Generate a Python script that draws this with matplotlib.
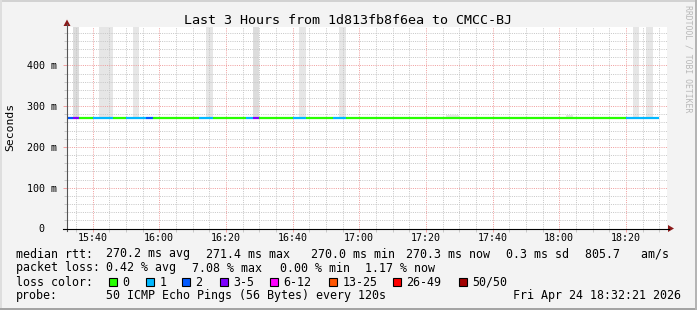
import matplotlib
matplotlib.use("Agg")
import matplotlib.pyplot as plt
from matplotlib.lines import Line2D
from matplotlib.patches import Rectangle, Polygon
from matplotlib.ticker import MultipleLocator, FuncFormatter

MONO = 'DejaVu Sans Mono'

# time window (minutes since midnight), ends at 18:32:21
view_start = "15:32:21"
view_end = "18:32:21"

# median line, split into runs of equal packet loss (pings lost out of 50)
seg_start = ["15:32", "15:34", "15:36", "15:40", "15:46", "15:50", "15:56", "15:58",
             "16:12", "16:16", "16:26", "16:28", "16:30", "16:40", "16:44", "16:52",
             "16:56", "18:20"]
seg_lost = [2, 3, 0, 1, 0, 1, 2, 0, 1, 0, 1, 3, 0, 1, 0, 1, 0, 1]
seg_median = [270.4, 270.3, 270.2, 270.2, 270.1, 270.2, 270.3, 270.2, 270.2,
              270.1, 270.2, 270.3, 270.2, 270.2, 270.1, 270.2, 270.2, 270.3]
last_sample = "18:30"

# smoke: steps where some pings were slow (max rtt in ms, number of slow pings)
smoke_start = ["15:34", "15:42", "15:44", "15:52", "16:14", "16:28", "16:42",
               "16:54", "17:26", "17:28", "18:02", "18:22", "18:26"]
smoke_max = [2000, 2000, 2000, 2000, 2000, 2000, 2000, 2000, 277, 277, 276, 2000, 2000]
smoke_slow = [3, 1, 1, 1, 1, 3, 1, 1, 1, 1, 1, 1, 1]

# loss colour legend
loss_labels = ["0", "1", "2", "3-5", "6-12", "13-25", "26-49", "50/50"]
loss_floor = [0, 1, 2, 3, 6, 13, 26, 50]
loss_colors = ['#26ff00', '#00b8ff', '#0059ff', '#7e00ff', '#ff00ff', '#ff5500', '#ff0000', '#a10000']

# summary numbers
rtt_stats = [270.2, 271.4, 270.0, 270.3]   # avg max min now (ms)
rtt_sd = 0.3
rtt_amps = 805.7
loss_stats = [0.42, 7.08, 0.00, 1.17]      # avg max min now (%)

y_ticks = [0, 100, 200, 300, 400]
y_tick_labels = ["0  ", "100 m", "200 m", "300 m", "400 m"]
y_top = 494


def minutes(s):
    parts = [float(p) for p in s.split(":")]
    while len(parts) < 3:
        parts.append(0)
    return parts[0] * 60 + parts[1] + parts[2] / 60


def loss_color(n):
    c = loss_colors[0]
    for f, col in zip(loss_floor, loss_colors):
        if n >= f:
            c = col
    return c


W, H = 697, 310
def fx(x):
    return x / W
def fy(y):
    return 1 - y / H


fig = plt.figure(figsize=(W / 100, H / 100), dpi=100)
fig.patch.set_facecolor('#f3f3f3')

ax = fig.add_axes([fx(67), fy(228.5), 600 / W, (228.5 - 27) / H])
ax.set_facecolor('white')
t0, t1 = minutes(view_start), minutes(view_end)
ax.set_xlim(t0, t1)
ax.set_ylim(0, y_top)
for s in ax.spines.values():
    s.set_visible(False)

# grid
ax.xaxis.set_major_locator(MultipleLocator(20))
ax.xaxis.set_minor_locator(MultipleLocator(5))
ax.set_yticks(y_ticks)
ax.set_yticklabels(y_tick_labels, family=MONO, fontsize=7.2)
ax.yaxis.set_minor_locator(MultipleLocator(20))
ax.xaxis.set_major_formatter(FuncFormatter(lambda v, p: "%d:%02d" % (int(v // 60), int(round(v % 60)))))
for lab in ax.get_xticklabels():
    lab.set_family(MONO)
ax.tick_params(axis='x', which='major', labelsize=7.2, length=2, width=0.7, color='#f2a0a0', pad=1.2)
ax.tick_params(axis='x', which='minor', length=2, width=0.7, color='#c8c8c8')
ax.tick_params(axis='y', which='major', labelsize=7.2, length=3, width=0.7, color='#f2a0a0', pad=4.5)
ax.tick_params(axis='y', which='minor', length=2, width=0.7, color='#c8c8c8')
ax.grid(which='minor', color='#c8c8c8', linestyle=(0, (1, 1.2)), linewidth=0.72)
ax.grid(which='major', color='#f0a0a0', linestyle=(0, (1, 1.2)), linewidth=0.72)
ax.set_axisbelow(False)

# smoke
for st, mx, n in zip(smoke_start, smoke_max, smoke_slow):
    x = minutes(st)
    base = seg_median[0]
    for ss, med in zip(seg_start, seg_median):
        if minutes(ss) <= x:
            base = med
    shade = '#dcdcdc' if n >= 2 else '#e6e6e6'
    ax.bar(x, mx - base, bottom=base + 1.5, width=2, align='edge', color=shade, linewidth=0, zorder=1)

# median line coloured by loss
ends = seg_start[1:] + [last_sample]
for st, en, n, med in zip(seg_start, ends, seg_lost, seg_median):
    ax.plot([minutes(st), minutes(en)], [med, med], color=loss_color(n), lw=1.6,
            solid_capstyle='butt', zorder=4)

# axis lines and arrows
fig.add_artist(Line2D([fx(67), fx(67)], [fy(231), fy(24)], color='#555555', lw=0.8))
fig.add_artist(Line2D([fx(63), fx(669)], [fy(228.5), fy(228.5)], color='#000000', lw=0.8))
fig.add_artist(Polygon([(fx(63.5), fy(26)), (fx(70.5), fy(26)), (fx(67), fy(19.5))],
                       closed=True, color='#8b1a1a', lw=0))
fig.add_artist(Polygon([(fx(668), fy(225)), (fx(668), fy(232)), (fx(674), fy(228.5))],
                       closed=True, color='#8b1a1a', lw=0))

# frame
fig.add_artist(Rectangle((0, fy(2)), 1, 2 / H, transform=fig.transFigure, color='#d2d2d2', lw=0))
fig.add_artist(Rectangle((0, 0), 2 / W, 1, transform=fig.transFigure, color='#dedede', lw=0))
fig.add_artist(Rectangle((0, 0), 1, 2 / H, transform=fig.transFigure, color='#a4a4a4', lw=0))
fig.add_artist(Rectangle((fx(695), 0), 2 / W, 1, transform=fig.transFigure, color='#b4b4b4', lw=0))

# texts
fig.text(0.5, fy(24), "Last 3 Hours from 1d813fb8f6ea to CMCC-BJ", ha='center', va='baseline',
         family=MONO, fontsize=9.6)
fig.text(fx(10.5), fy(127), "Seconds", rotation=90, ha='center', va='center',
         family=MONO, fontsize=8.2)
fig.text(fx(688), fy(5), "RRDTOOL / TOBI OETIKER", rotation=270, ha='center', va='top',
         family=MONO, fontsize=5.9, color='#b8b8b8')

fs = 8.35
def row(items, base):
    for s, x in items:
        fig.text(fx(x), fy(base), s, ha='left', va='baseline', family=MONO, fontsize=fs)

row([("median rtt:", 15.5),
     ("%.1f ms avg" % rtt_stats[0], 106),
     ("%.1f ms max" % rtt_stats[1], 206),
     ("%.1f ms min" % rtt_stats[2], 311),
     ("%.1f ms now" % rtt_stats[3], 406),
     ("%.1f ms sd" % rtt_sd, 506),
     ("%.1f   am/s" % rtt_amps, 585)], 257.5)
row([("packet loss:", 15.5),
     ("%.2f %% avg" % loss_stats[0], 106),
     ("%.2f %% max" % loss_stats[1], 192),
     ("%.2f %% min" % loss_stats[2], 280),
     ("%.2f %% now" % loss_stats[3], 365)], 271.5)
row([("loss color:", 15.5)], 285.5)
box_x = [109, 146, 182, 220, 270, 329, 393, 459]
for bx, lab, col in zip(box_x, loss_labels, loss_colors):
    fig.add_artist(Rectangle((fx(bx), fy(285.5)), 8 / W, 8 / H, transform=fig.transFigure,
                             facecolor=col, edgecolor='black', lw=0.8))
    fig.text(fx(bx + 13.5), fy(285.5), lab, ha='left', va='baseline', family=MONO, fontsize=fs)
row([("probe:", 15.5), ("50 ICMP Echo Pings (56 Bytes) every 120s", 106)], 299.5)
fig.text(fx(681), fy(299.5), "Fri Apr 24 18:32:21 2026", ha='right', va='baseline',
         family=MONO, fontsize=fs)

fig.savefig("out.png", dpi=100, facecolor=fig.get_facecolor())
